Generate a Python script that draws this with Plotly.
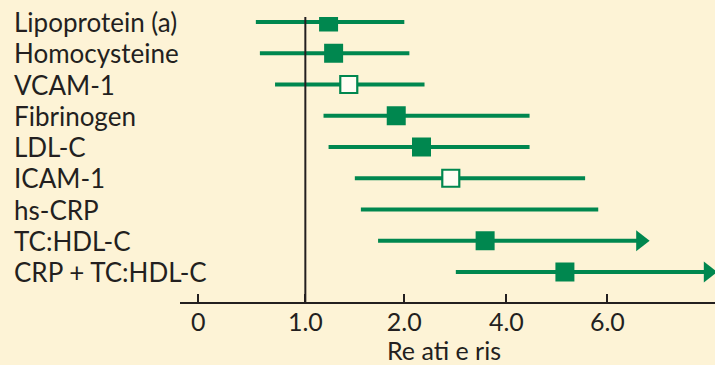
import plotly.graph_objects as go

# Rows (top to bottom)
categories = ["Lipoprotein (a)", "Homocysteine", "VCAM-1", "Fibrinogen", "LDL-C",
              "ICAM-1", "hs-CRP", "TC:HDL-C", "CRP + TC:HDL-C"]
# Values in axis-position units (axis ticks below map positions to relative-risk labels)
ci_low = [0.57, 0.61, 0.76, 1.24, 1.29, 1.55, 1.61, 1.78, 2.55]
ci_high = [2.04, 2.09, 2.24, 3.28, 3.28, 3.83, 3.96, 4.38, 5.05]
estimate = [1.29, 1.34, 1.49, 1.96, 2.21, 2.50, None, 2.84, 3.63]
filled = [True, True, False, True, True, False, None, True, True]
open_ended = [False, False, False, False, False, False, False, True, True]

tick_pos = [0, 1.06, 2.04, 3.05, 4.05]
tick_text = ["0", "1.0", "2.0", "4.0", "6.0"]
ref_line = 1.06
x_title = "Re ati e ris"

GREEN = "#00874f"
BG = "#fdf3d6"
INK = "#231f20"
FONT = "Lato"
FS = 26

fig = go.Figure()
ys = list(range(len(categories)))

for i, (lo, hi, oe) in enumerate(zip(ci_low, ci_high, open_ended)):
    fig.add_trace(go.Scatter(
        x=[lo, hi], y=[i, i], mode="lines+markers" if oe else "lines",
        line=dict(color=GREEN, width=4),
        marker=dict(symbol=["line-ns", "triangle-right"], size=[0, 18],
                    color=GREEN, opacity=1, line=dict(width=0)),
        cliponaxis=False, showlegend=False, hoverinfo="skip"))

fx = [e for e, f in zip(estimate, filled) if f is True]
fy = [i for i, f in zip(ys, filled) if f is True]
ox = [e for e, f in zip(estimate, filled) if f is False]
oy = [i for i, f in zip(ys, filled) if f is False]

fig.add_trace(go.Scatter(x=fx, y=fy, mode="markers",
                         marker=dict(symbol="square", size=19, color=GREEN,
                                     line=dict(width=0)),
                         showlegend=False))
fig.add_trace(go.Scatter(x=ox, y=oy, mode="markers",
                         marker=dict(symbol="square", size=17, color="#fffdf3",
                                     line=dict(width=2.2, color=GREEN)),
                         showlegend=False))

for i, c in enumerate(categories):
    fig.add_annotation(x=-0.314, xref="paper", y=i, yref="y", text=c,
                       showarrow=False, xanchor="left", yanchor="middle",
                       font=dict(family=FONT, size=FS, color=INK))

fig.add_shape(type="line", x0=ref_line, x1=ref_line, xref="x",
              y0=0, y1=1, yref="paper", line=dict(color=INK, width=2))

fig.add_annotation(x=(385 - 180) / 535, xref="paper", y=-0.17, yref="paper",
                   text=x_title, showarrow=False, xanchor="left", yanchor="middle",
                   font=dict(family=FONT, size=25, color=INK))

fig.update_layout(
    width=715, height=365,
    margin=dict(l=180, r=0, t=17, b=63),
    paper_bgcolor=BG, plot_bgcolor=BG,
    font=dict(family=FONT, size=FS, color=INK),
    xaxis=dict(range=[-0.181, 5.116], tickvals=tick_pos, ticktext=tick_text,
               showgrid=False, zeroline=False, showline=True, linecolor=INK,
               linewidth=2, ticks="inside", ticklen=8, tickwidth=2, tickcolor=INK,
               ticklabelstandoff=-3,
               tickfont=dict(family=FONT, size=25, color=INK)),
    yaxis=dict(range=[8.96, -0.16], showgrid=False, zeroline=False,
               showticklabels=False, showline=False),
)

fig.write_html("out.html", config={"displayModeBar": False},
               post_script="document.body.style.margin='0';document.body.style.overflow='hidden';")
